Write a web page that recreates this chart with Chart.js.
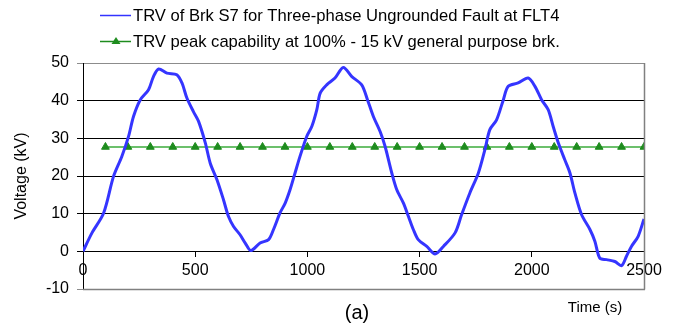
<!DOCTYPE html>
<html>
<head>
<meta charset="utf-8">
<script src="https://cdn.jsdelivr.net/npm/chart.js@4.4.1/dist/chart.umd.min.js"></script>
<style>
  body { margin: 0; background: #fff; }
  #wrap { width: 680px; height: 330px; position: relative; }
</style>
</head>
<body>
<div id="wrap"><canvas id="trvChart" width="680" height="330"></canvas></div>
<script>
// TRV trace (time in s, voltage in kV)
const trvTime = [0, 40, 92, 136, 173, 203, 225, 255, 292, 314, 337, 374, 418, 441, 463, 492, 515, 545, 567, 597, 626, 648,
  671, 700, 723, 748, 789, 827, 849, 878, 901, 923, 945, 967, 997, 1020, 1042, 1057, 1086, 1123, 1160, 1198, 1242,
  1268, 1294, 1324, 1346, 1376, 1398, 1428, 1450, 1472, 1494, 1532, 1569, 1606, 1658, 1687, 1724, 1762, 1791, 1813,
  1843, 1873, 1895, 1939, 1984, 2014, 2044, 2073, 2095, 2118, 2147, 2170, 2192, 2222, 2259, 2281, 2303, 2333, 2370,
  2400, 2422, 2444, 2474, 2500];
const trvVolts = [0, 4.9, 10.2, 19.9, 25.2, 30.5, 35.8, 40.2, 42.9, 46.4, 48.4, 47.3, 46.9, 44.7, 40.7, 37.1, 34.5, 28.8, 23.4, 19.0, 13.7, 9.3,
  6.6, 4.4, 2.2, 0.2, 2.2, 3.1, 5.8, 10.2, 12.8, 16.4, 20.8, 25.2, 30.5, 33.2, 37.6, 42.0, 44.2, 46.0, 48.8, 46.4, 44.2,
  40.2, 35.8, 31.8, 27.9, 20.8, 16.4, 12.8, 9.3, 5.8, 3.1, 1.3, -0.7, 1.3, 4.9, 9.7, 15.5, 20.8, 27.0, 32.3,
  34.9, 40.2, 43.8, 44.7, 46.0, 43.8, 40.2, 37.6, 33.2, 28.8, 24.3, 20.8, 15.5, 9.7, 5.8, 2.7, -1.8, -2.2, -2.7,
  -3.8, -1.3, 1.3, 4.0, 8.6];

// breaker capability
const capTime = [100, 200, 300, 400, 500, 600, 700, 800, 900, 1000, 1100, 1200, 1300, 1400, 1500, 1600, 1700, 1800,
  1900, 2000, 2100, 2200, 2300, 2400, 2500];
const capVolts = capTime.map(() => 27.7);

const xTicks = [0, 500, 1000, 1500, 2000, 2500];
const yTicks = [-10, 0, 10, 20, 30, 40, 50];

const seriesNames = [
  "TRV of Brk S7 for Three-phase Ungrounded Fault at FLT4",
  "TRV peak capability at 100% - 15 kV general purpose brk."
];

const FONT = "'Liberation Sans', Arial, sans-serif";

// legend, plot border and the two captions
const extras = {
  id: "extras",
  afterDraw(chart) {
    const { ctx, chartArea } = chart;
    const yScale = chart.scales.y;
    const yLow = Math.round(yScale.getPixelForValue(yTicks[0])) + 0.5;
    const yTop = Math.round(yScale.getPixelForValue(yTicks[yTicks.length - 1]));
    ctx.save();
    // right and bottom frame of the plot
    ctx.strokeStyle = "#808080";
    ctx.lineWidth = 1.5;
    ctx.beginPath();
    ctx.moveTo(Math.round(chartArea.right) + 0.5, yTop);
    ctx.lineTo(Math.round(chartArea.right) + 0.5, yLow);
    ctx.moveTo(chartArea.left, yLow);
    ctx.lineTo(Math.round(chartArea.right) + 1, yLow);
    ctx.stroke();

    ctx.font = "16.6px " + FONT;
    ctx.fillStyle = "#000";
    ctx.textBaseline = "middle";
    // blue entry
    ctx.strokeStyle = "#3333ff";
    ctx.lineWidth = 1.5;
    ctx.beginPath();
    ctx.moveTo(100, 15.5);
    ctx.lineTo(131, 15.5);
    ctx.stroke();
    ctx.fillText(seriesNames[0], 133, 16);
    // green entry
    ctx.strokeStyle = "#1e8c1e";
    ctx.beginPath();
    ctx.moveTo(100, 41.5);
    ctx.lineTo(131, 41.5);
    ctx.stroke();
    ctx.fillStyle = "#1e8c1e";
    ctx.beginPath();
    ctx.moveTo(116, 37);
    ctx.lineTo(120.5, 44);
    ctx.lineTo(111.5, 44);
    ctx.closePath();
    ctx.fill();
    ctx.fillStyle = "#000";
    ctx.fillText(seriesNames[1], 133, 42);
    // captions
    ctx.textAlign = "center";
    ctx.font = "20px " + FONT;
    ctx.fillText("(a)", 357, 313);
    ctx.font = "15px " + FONT;
    ctx.fillText("Time (s)", 595, 308);
    ctx.restore();
  }
};

const ctx = document.getElementById("trvChart").getContext("2d");
new Chart(ctx, {
  type: "line",
  data: {
    datasets: [
      {
        label: seriesNames[0],
        data: trvTime.map((t, i) => ({ x: t, y: trvVolts[i] })),
        borderColor: "#3535ff",
        borderWidth: 3,
        pointRadius: 0,
        tension: 0.3,
        fill: false
      },
      {
        label: seriesNames[1],
        data: capTime.map((t, i) => ({ x: t, y: capVolts[i] })),
        borderColor: "#6cc06c",
        borderWidth: 2,
        pointStyle: "triangle",
        pointRadius: 4.5,
        pointBackgroundColor: "#1e8c1e",
        pointBorderColor: "#1e8c1e",
        pointBorderWidth: 1,
        fill: false
      }
    ]
  },
  options: {
    responsive: false,
    animation: false,
    layout: { padding: { top: 63, right: 36, left: 0, bottom: 41 } },
    plugins: { legend: { display: false }, tooltip: { enabled: false } },
    scales: {
      x: {
        type: "linear",
        position: { y: 0 },
        min: 0,
        max: 2500,
        afterFit(scale) { scale.height = 0; },
        afterBuildTicks(scale) { scale.ticks = xTicks.map(v => ({ value: v })); },
        border: { color: "#000", width: 1 },
        grid: { drawOnChartArea: false, drawTicks: true, tickLength: 5, color: "#000" },
        ticks: { color: "#000", font: { family: FONT, size: 16 }, padding: 5, maxRotation: 0, callback: (v) => String(v) }
      },
      y: {
        min: -10,
        max: 50,
        afterFit(scale) { scale.width = 83; },
        afterBuildTicks(scale) { scale.ticks = yTicks.map(v => ({ value: v })); },
        border: { color: "#000", width: 1 },
        grid: {
          tickLength: 6,
          color: (c) => (c.tick && (c.tick.value === 50 || c.tick.value === -10)) ? "#8c8c8c" : "#000",
          lineWidth: 1
        },
        ticks: { color: "#000", font: { family: FONT, size: 16 }, padding: 8 },
        title: {
          display: true,
          text: "Voltage (kV)",
          color: "#000",
          font: { family: FONT, size: 16 },
          padding: { top: 12, bottom: 0 }
        }
      }
    }
  },
  plugins: [extras]
});
</script>
</body>
</html>
